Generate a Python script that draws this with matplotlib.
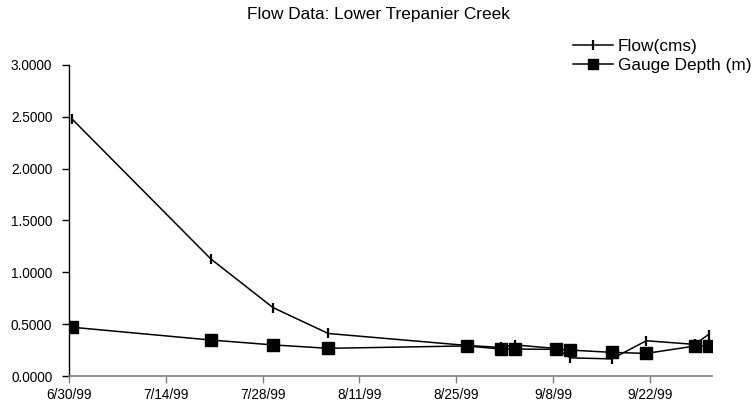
import numpy as np
import pandas as pd
import matplotlib
matplotlib.use("Agg")
import matplotlib.pyplot as plt

plt.rcParams['font.family'] = ['Liberation Sans', 'DejaVu Sans']

# sampling dates and readings
dates = ['1999-06-30', '1999-07-20', '1999-07-29', '1999-08-06', '1999-08-26',
         '1999-08-31', '1999-09-02', '1999-09-08', '1999-09-10', '1999-09-16',
         '1999-09-21', '1999-09-28', '1999-09-30']
flow = [2.475, 1.13, 0.66, 0.41, 0.295, 0.275, 0.30, 0.265, 0.175, 0.165,
        0.34, 0.305, 0.40]
gauge = [0.47, 0.347, 0.30, 0.267, 0.29, 0.26, 0.26, 0.257, 0.25, 0.228,
         0.218, 0.289, 0.289]

tick_dates = ['1999-06-30', '1999-07-14', '1999-07-28', '1999-08-11',
              '1999-08-25', '1999-09-08', '1999-09-22']
tick_labels = ['6/30/99', '7/14/99', '7/28/99', '8/11/99', '8/25/99', '9/8/99', '9/22/99']

x = pd.to_datetime(dates) + pd.Timedelta(hours=12)  # excel puts points mid-day

fig = plt.figure(figsize=(7.55, 4.04), dpi=100)
ax = fig.add_axes([69/755, 28/404, (712-69)/755, (376-65)/404])

ax.plot(x, flow, color='black', lw=1.1, marker='|', ms=7.5, mew=1.6, label='Flow(cms)')
ax.plot(x, gauge, color='black', lw=1.1, marker='s', ms=8.5, label='Gauge Depth (m)')

ax.set_xlim(pd.Timestamp('1999-06-30'), pd.Timestamp('1999-10-01'))
ax.set_ylim(0, 3)
ax.set_yticks(np.arange(0, 3.01, 0.5))
ax.set_yticklabels(['%.4f' % v for v in np.arange(0, 3.01, 0.5)])
ax.set_xticks(pd.to_datetime(tick_dates))
ax.set_xticklabels(tick_labels)

for s in ['top', 'right']:
    ax.spines[s].set_visible(False)
ax.spines['left'].set_color('black')
ax.spines['left'].set_linewidth(1)
ax.spines['bottom'].set_color('#808080')
ax.spines['bottom'].set_linewidth(1.2)
ax.tick_params(axis='y', direction='out', length=5, width=1, pad=7, labelsize=9.8)
ax.tick_params(axis='x', direction='out', length=5, width=1, color='#808080', pad=3.5, labelsize=9.8)

fig.text(378/755, 1 - 15/404, 'Flow Data: Lower Trepanier Creek', ha='center', va='center', fontsize=12.4)

ax.legend(loc='upper left', bbox_to_anchor=(573/755, 1 - 39/404), bbox_transform=fig.transFigure,
          frameon=False, fontsize=12.4, handlelength=2.3, handletextpad=0.3,
          labelspacing=0.2, borderaxespad=0, borderpad=0, markerscale=0.9)

fig.savefig('out.png', dpi=100)
